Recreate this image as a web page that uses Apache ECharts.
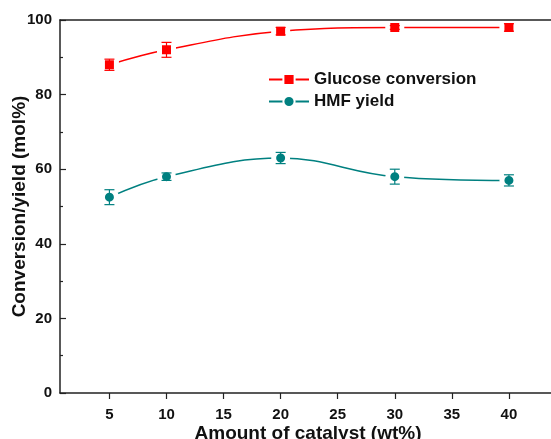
<!DOCTYPE html>
<html>
<head>
<meta charset="utf-8">
<script src="https://cdn.jsdelivr.net/npm/echarts@6/dist/echarts.min.js"></script>
<style>
  html, body { margin: 0; padding: 0; background: #fff; }
  #main { width: 551px; height: 439px; }
</style>
</head>
<body>
<div id="main"></div>
<script>
// data
var catalyst = [5, 10, 20, 30, 40];
var glucose = [88, 92, 97, 98, 98];
var glucoseErr = [1.5, 2, 1, 0.5, 1];
var hmf = [52.5, 58, 63, 58, 57];
var hmfErr = [2, 1, 1.5, 2, 1.5];
var xTicks = [5, 10, 15, 20, 25, 30, 35, 40];

var font = 'Liberation Sans, Arial, sans-serif';
var red = '#ff0000';
var teal = '#008080';

function pairs(ys) {
    return catalyst.map(function (x, i) { return [x, ys[i]]; });
}
function errData(ys, es) {
    return catalyst.map(function (x, i) { return [x, ys[i] - es[i], ys[i] + es[i]]; });
}
function errRender(color) {
    return function (params, api) {
        var lo = api.coord([api.value(0), api.value(1)]);
        var hi = api.coord([api.value(0), api.value(2)]);
        var w = 5;
        var st = { stroke: color, lineWidth: 1.2 };
        return {
            type: 'group',
            children: [
                { type: 'line', shape: { x1: lo[0], y1: lo[1], x2: hi[0], y2: hi[1] }, style: st },
                { type: 'line', shape: { x1: lo[0] - w, y1: lo[1], x2: lo[0] + w, y2: lo[1] }, style: st },
                { type: 'line', shape: { x1: hi[0] - w, y1: hi[1], x2: hi[0] + w, y2: hi[1] }, style: st }
            ]
        };
    };
}

var myChart = echarts.init(document.getElementById('main'));
var option = {
    animation: false,
    grid: { left: 60, top: 20, bottom: 46, right: -15, outerBoundsMode: 'none', containLabel: false },
    legend: {
        left: 263, top: 66, orient: 'vertical',
        itemWidth: 40, itemHeight: 14, itemGap: 5,
        textStyle: { fontFamily: font, fontWeight: 'bold', fontSize: 17, color: '#111' },
        data: ['Glucose conversion', 'HMF yield']
    },
    xAxis: [{
        type: 'value', min: 0.67, max: 45,
        name: 'Amount of catalyst (wt%)', nameLocation: 'middle', nameGap: 31, nameMoveOverlap: false,
        nameTextStyle: { fontFamily: font, fontWeight: 'bold', fontSize: 19, color: '#111', padding: [0, 10, 0, 0] },
        axisLine: { lineStyle: { color: '#222', width: 1.5 } },
        axisTick: { show: true, inside: false, length: 6, customValues: xTicks, lineStyle: { color: '#222', width: 1.2 } },
        axisLabel: { customValues: xTicks, margin: 14, fontFamily: font, fontWeight: 'bold', fontSize: 15, color: '#111' },
        splitLine: { show: false }
    }, {
        // top frame line
        type: 'value', position: 'top', min: 0.67, max: 45, z: 10,
        axisLine: { show: true, lineStyle: { color: '#222', width: 1.5 } },
        axisTick: { show: false }, axisLabel: { show: false }, splitLine: { show: false }
    }],
    yAxis: {
        type: 'value', min: 0, max: 100, interval: 20,
        name: 'Conversion/yield (mol%)', nameLocation: 'middle', nameGap: 31, nameMoveOverlap: false,
        nameTextStyle: { fontFamily: font, fontWeight: 'bold', fontSize: 19, color: '#111' },
        axisLine: { show: true, lineStyle: { color: '#222', width: 1.5 } },
        axisTick: { show: true, inside: true, length: 6, lineStyle: { color: '#222', width: 1.2 } },
        minorTick: { show: true, splitNumber: 2, length: 3, lineStyle: { color: '#222', width: 1.2 } },
        axisLabel: { margin: 8, fontFamily: font, fontWeight: 'bold', fontSize: 15, color: '#111' },
        splitLine: { show: false }
    },
    series: [
        {
            name: 'Glucose conversion', type: 'line', smooth: 0.4,
            data: pairs(glucose), symbol: 'rect', symbolSize: 14,
            lineStyle: { color: red, width: 1.5 },
            itemStyle: { color: red, borderColor: '#fff', borderWidth: 5 }
        },
        {
            name: 'HMF yield', type: 'line', smooth: 0.4,
            data: pairs(hmf), symbol: 'circle', symbolSize: 14,
            lineStyle: { color: teal, width: 1.5 },
            itemStyle: { color: teal, borderColor: '#fff', borderWidth: 5 }
        },
        {
            type: 'custom', z: 5, renderItem: errRender(red), data: errData(glucose, glucoseErr),
            encode: { x: 0, y: [1, 2] }
        },
        {
            type: 'custom', z: 5, renderItem: errRender(teal), data: errData(hmf, hmfErr),
            encode: { x: 0, y: [1, 2] }
        }
    ]
};
myChart.setOption(option);
</script>
</body>
</html>
